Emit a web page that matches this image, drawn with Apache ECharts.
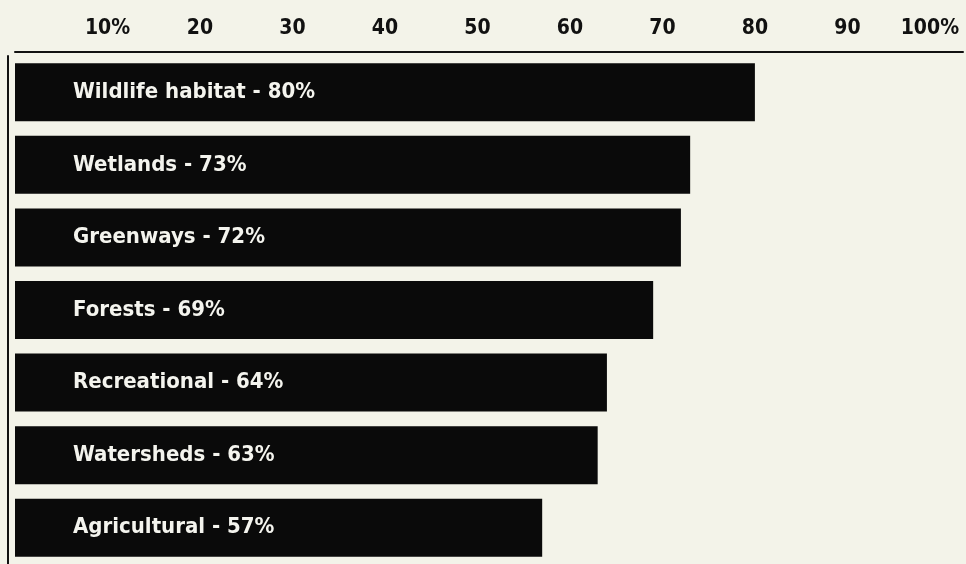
<!DOCTYPE html>
<html>
<head>
<meta charset="utf-8">
<script src="https://cdn.jsdelivr.net/npm/echarts@6/dist/echarts.min.js"></script>
<style>
html,body{margin:0;padding:0;background:#f3f3e9;}
#c{width:966px;height:564px;}
</style>
</head>
<body>
<div id="c"></div>
<script>
var categories = ['Wildlife habitat', 'Wetlands', 'Greenways', 'Forests', 'Recreational', 'Watersheds', 'Agricultural'];
var values = [80, 73, 72, 69, 64, 63, 57];
var tickLabels = ['', '10%', '20', '30', '40', '50', '60', '70', '80', '90', '100%'];

var FONT = '"Liberation Sans Narrow", "DejaVu Sans Condensed", "Arial Narrow", sans-serif';
var chart = echarts.init(document.getElementById('c'));
chart.setOption({
  backgroundColor: '#f3f3e9',
  animation: false,
  grid: { left: 15, right: 0, top: 56, bottom: 0, containLabel: false },
  xAxis: {
    type: 'value',
    position: 'top',
    min: 0,
    max: 102.5,
    interval: 10,
    offset: 4,
    splitLine: { show: false },
    axisTick: { show: false },
    axisLine: { show: true, onZero: false, lineStyle: { color: '#111', width: 2 } },
    axisLabel: {
      margin: 13,
      color: '#111',
      fontFamily: FONT,
      fontWeight: 'bold',
      fontSize: 21,
      formatter: function (v) {
        var i = Math.round(v / 10);
        if (Math.abs(v - i * 10) > 1e-6) return '';
        var t = tickLabels[i] || '';
        return i === tickLabels.length - 1 ? '{m|' + t + '}' : t;
      },
      rich: {
        m: { fontFamily: FONT, fontWeight: 'bold', fontSize: 21, color: '#111', padding: [0, 20, 0, 0] }
      }
    }
  },
  yAxis: {
    type: 'category',
    inverse: true,
    data: categories,
    offset: 7,
    axisLabel: { show: false },
    axisTick: { show: false },
    axisLine: { show: true, onZero: false, lineStyle: { color: '#111', width: 2 } }
  },
  series: [{
    type: 'bar',
    data: values,
    barWidth: 58,
    itemStyle: { color: '#0a0a0a' },
    label: {
      show: true,
      position: [58, '50%'],
      verticalAlign: 'middle',
      formatter: '{b} - {c}%',
      color: '#f4f4ee',
      fontFamily: FONT,
      fontWeight: 'bold',
      fontSize: 22
    }
  }]
});
</script>
</body>
</html>
